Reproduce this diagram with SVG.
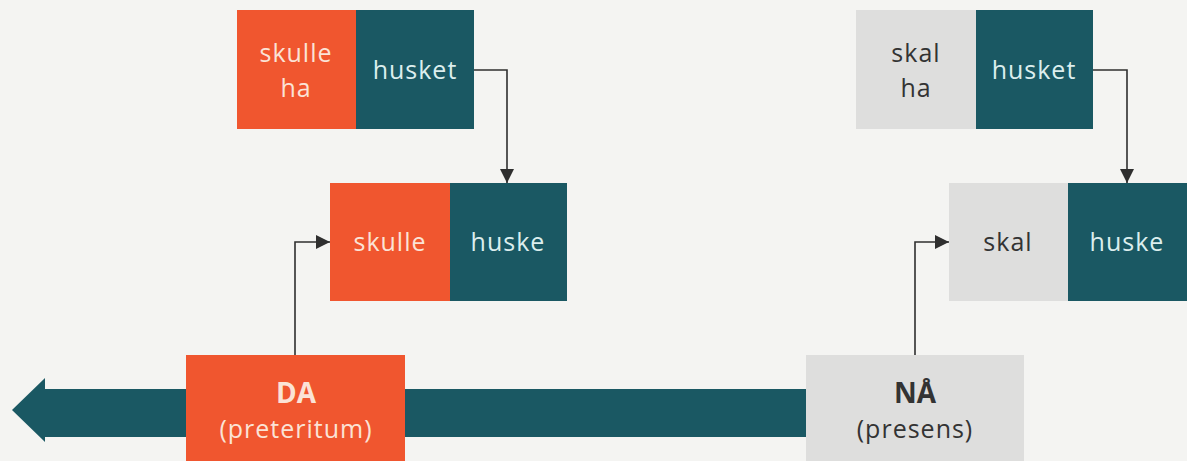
<svg xmlns="http://www.w3.org/2000/svg" width="1187" height="461" viewBox="0 0 1187 461">
  <style>
    .red { fill: #F0562F; }
    .teal { fill: #1A5863; }
    .grey { fill: #DEDEDD; }
    .lbl { font-family: "Open Sans", "Lato", sans-serif; font-size: 25px; letter-spacing: 1px; text-anchor: middle; }
    .light-on-red { fill: #FBE3D6; }
    .light-on-teal { fill: #DCEEEE; }
    .dark { fill: #333333; }
    .bold { font-weight: bold; font-size: 28px; letter-spacing: 0; }
    .wire { fill: none; stroke: #2F2F2F; stroke-width: 1.6; }
  </style>
  <defs>
    <marker id="head" viewBox="0 0 14 14" refX="14" refY="7" markerWidth="14" markerHeight="14" markerUnits="userSpaceOnUse" orient="auto">
      <path d="M0,0 L14,7 L0,14 Z" fill="#2F2F2F"/>
    </marker>
  </defs>

  <rect width="1187" height="461" fill="#F4F4F2"/>

  <!-- timeline arrow pointing into the past -->
  <g id="timeline">
    <path d="M806,389 L45,389 L45,378 L12,410 L45,442 L45,437 L806,437 Z" fill="#1A5863"/>
  </g>

  <!-- connectors -->
  <g id="connectors">
    <path class="wire" d="M474,70 H507 V183" marker-end="url(#head)"/>
    <path class="wire" d="M1093,70 H1127 V183" marker-end="url(#head)"/>
    <path class="wire" d="M295,355 V242 H330" marker-end="url(#head)"/>
    <path class="wire" d="M915,355 V242 H949" marker-end="url(#head)"/>
  </g>

  <g id="skulle-ha-husket">
    <rect class="red" x="237" y="10" width="119" height="119"/>
    <rect class="teal" x="356" y="10" width="118" height="119"/>
    <text class="lbl light-on-red" x="296" y="62">skulle</text>
    <text class="lbl light-on-red" x="296" y="97">ha</text>
    <text class="lbl light-on-teal" x="415" y="79">husket</text>
  </g>

  <g id="skulle-huske">
    <rect class="red" x="330" y="183" width="120" height="118"/>
    <rect class="teal" x="450" y="183" width="117" height="118"/>
    <text class="lbl light-on-red" x="390" y="251">skulle</text>
    <text class="lbl light-on-teal" x="508" y="251">huske</text>
  </g>

  <g id="skal-ha-husket">
    <rect class="grey" x="856" y="10" width="120" height="119"/>
    <rect class="teal" x="976" y="10" width="117" height="119"/>
    <text class="lbl dark" x="916" y="62">skal</text>
    <text class="lbl dark" x="916" y="97">ha</text>
    <text class="lbl light-on-teal" x="1034" y="79">husket</text>
  </g>

  <g id="skal-huske">
    <rect class="grey" x="949" y="183" width="119" height="118"/>
    <rect class="teal" x="1068" y="183" width="119" height="118"/>
    <text class="lbl dark" x="1008" y="251">skal</text>
    <text class="lbl light-on-teal" x="1127" y="251">huske</text>
  </g>

  <g id="da">
    <rect class="red" x="186" y="355" width="219" height="106"/>
    <text class="lbl bold light-on-red" x="296" y="403">DA</text>
    <text class="lbl light-on-red" x="296" y="438">(preteritum)</text>
  </g>

  <g id="naa">
    <rect class="grey" x="806" y="355" width="218" height="106"/>
    <text class="lbl bold dark" x="915" y="403">NÅ</text>
    <text class="lbl dark" x="915" y="438">(presens)</text>
  </g>
</svg>
